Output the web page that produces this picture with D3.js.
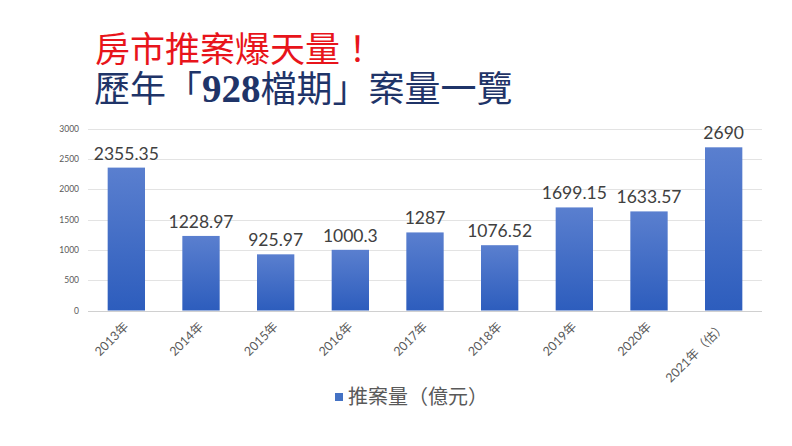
<!DOCTYPE html>
<html><head><meta charset="utf-8">
<script src="https://cdn.jsdelivr.net/npm/d3@7"></script>
<style>html,body{margin:0;padding:0;background:#fff;}</style>
</head><body>
<svg id="c" width="792" height="446"></svg>
<script>
const categories = ["2013年","2014年","2015年","2016年","2017年","2018年","2019年","2020年","2021年（估）"];
const values = [2355.35, 1228.97, 925.97, 1000.3, 1287, 1076.52, 1699.15, 1633.57, 2690];
const valueLabels = ["2355.35","1228.97","925.97","1000.3","1287","1076.52","1699.15","1633.57","2690"];
const yTicks = [0, 500, 1000, 1500, 2000, 2500, 3000];
const seriesName = "推案量（億元）";
const titleLine1 = "房市推案爆天量！";
const titleLine2 = [["歷年「",false],["928",true],["檔期」案量一覽",false]];

const svg = d3.select("#c");
const cjk = "'Noto Sans CJK TC','Noto Sans CJK SC',sans-serif";
const titleFont = "'Liberation Serif','Noto Sans CJK TC','Noto Sans CJK SC',serif";
const numFont = "Lato,'Open Sans','Noto Sans CJK TC',sans-serif";

const x = d3.scaleBand().domain(categories).range([89, 761]).paddingInner(0.5).paddingOuter(0.25);
const y = d3.scaleLinear().domain([0, 3000]).range([310.5, 128.5]);

const defs = svg.append("defs");
const g = defs.append("linearGradient").attr("id","bg").attr("x1",0).attr("y1",0).attr("x2",0).attr("y2",1);
g.append("stop").attr("offset","0%").attr("stop-color","#5a7fcf");
g.append("stop").attr("offset","100%").attr("stop-color","#2d5dbd");

// gridlines
svg.append("g").selectAll("line").data(yTicks).join("line")
  .attr("x1", 88).attr("x2", 762)
  .attr("y1", d => Math.round(y(d)) + 0.5).attr("y2", d => Math.round(y(d)) + 0.5)
  .attr("stroke", d => d === 0 ? "#d0d0d0" : "#e3e3e3").attr("stroke-width", 1);

// y tick labels
svg.append("g").selectAll("text").data(yTicks).join("text")
  .attr("x", 79).attr("y", d => y(d) + 3)
  .attr("text-anchor", "end").attr("font-family", numFont).attr("font-size", 8.5)
  .attr("fill", "#595959").text(d => d);

// bars
svg.append("g").selectAll("rect").data(values).join("rect")
  .attr("x", (d,i) => x(categories[i]))
  .attr("width", x.bandwidth())
  .attr("y", d => y(d))
  .attr("height", d => y(0) - y(d))
  .attr("fill", "url(#bg)");

// value labels
svg.append("g").selectAll("text").data(values).join("text")
  .attr("x", (d,i) => x(categories[i]) + x.bandwidth()/2)
  .attr("y", d => y(d) - 8)
  .attr("text-anchor", "middle").attr("font-family", numFont).attr("font-size", 17.5)
  .attr("fill", "#404040").text((d,i) => valueLabels[i]);

// x labels
svg.append("g").selectAll("text").data(categories).join("text")
  .attr("transform", d => `translate(${x(d) + x.bandwidth()/2 + 3},${y(0) + 17}) rotate(-45)`)
  .attr("text-anchor", "end").attr("font-family", numFont).attr("font-size", 12.5)
  .attr("fill", "#595959").text(d => d);

// legend
svg.append("rect").attr("x", 335).attr("y", 393).attr("width", 8).attr("height", 8).attr("fill", "#4472c4");
svg.append("text").attr("x", 348).attr("y", 404).attr("font-family", cjk).attr("font-size", 20)
  .attr("fill", "#595959").text(seriesName);

// titles
svg.append("text").attr("x", 95).attr("y", 61.5).attr("font-family", titleFont).attr("font-size", 35)
  .attr("fill", "#e8141b").text(titleLine1);
const t2 = svg.append("text").attr("x", 94).attr("y", 102).attr("font-family", titleFont).attr("font-size", 36)
  .attr("fill", "#1f3468");
titleLine2.forEach(([s,b]) => {
  const ts = t2.append("tspan").text(s);
  if (b) ts.attr("font-weight", "bold").attr("font-size", 39);
});
</script>
</body></html>
